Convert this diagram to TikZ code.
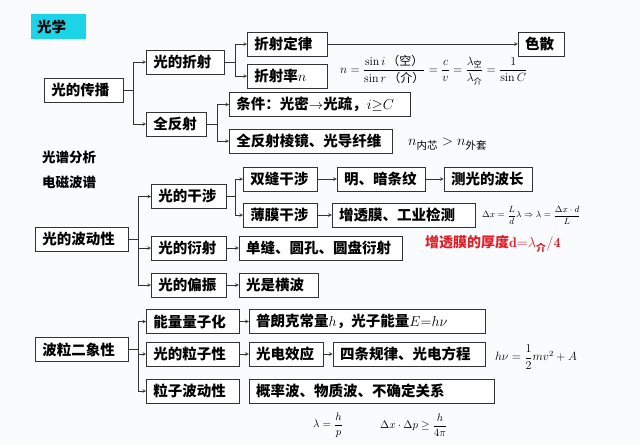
\documentclass[tikz,border=0pt]{standalone}
\usepackage{amsmath}
\usepackage{fontspec}
\newfontfamily\cjk{Noto Sans CJK SC}
\usetikzlibrary{positioning}
\definecolor{titlecyan}{RGB}{28,212,232}
\definecolor{redtext}{RGB}{225,30,40}
\definecolor{pagebg}{RGB}{250,251,253}

\begin{document}
\begin{tikzpicture}[x=1pt, y=-1pt,
				box/.style={rectangle, draw=black!80, line width=0.8pt, fill=white, minimum height=24pt, inner xsep=7pt, inner ysep=0pt, align=left, anchor=west, font=\cjk\bfseries\fontsize{14.5}{16}\selectfont},
				title/.style={rectangle, fill=titlecyan, minimum height=25pt, inner xsep=6pt, text width=43pt, align=left, anchor=west, font=\cjk\bfseries\fontsize{14.5}{16}\selectfont},
				note/.style={inner sep=0pt, anchor=west, font=\cjk\bfseries\fontsize{13.5}{16}\selectfont},
				formula/.style={inner sep=0pt, anchor=west, font=\fontsize{12}{14}\selectfont}
			]
			\fill[pagebg] (0,0) rectangle (640,445);
			% propagation
			\node[title] (optics) at (31,26.5) {光学};
			\node[box, text width=65pt] (prop) at (44,90) {光的传播};
			\node[box, text width=64pt] (refr) at (146,62) {光的折射};
			\node[box, text width=46pt] (tir) at (146,124) {全反射};
			\node[box, text width=66pt] (law) at (247,44) {折射定律};
			\node[box, text width=66pt] (index) at (247,76) {折射率$n$};
			\node[box, text width=167pt] (cond) at (229,104.5) {条件：光密$\to$光疏，$i{\geq}C$};
			\node[box, text width=149pt] (fiber) at (229,141) {全反射棱镜、光导纤维};
			\node[box, text width=32pt] (disp) [right=190pt of law] {色散};
			\node[formula] (snell) at (340,70) {$n=\dfrac{\sin i\,\text{\cjk （空）}}{\sin r\,\text{\cjk （介）}}=\dfrac{c}{v}=\dfrac{\lambda_{\text{\cjk 空}}}{\lambda_{\text{\cjk 介}}}=\dfrac{1}{\sin C}$};
			\node[formula, font=\fontsize{15}{17}\selectfont] (core) at (408,144) {$n_{\text{\cjk 内芯}}>n_{\text{\cjk 外套}}$};
			\node[note] (spec) at (42,157) {光谱分析};
			\node[note] (emw) at (42,182) {电磁波谱};
			% wave nature
			\node[box, text width=79pt] (wave) at (35,239) {光的波动性};
			\node[box, text width=61pt] (interf) at (151,196.5) {光的干涉};
			\node[box, text width=60pt] (double) at (243,179) {双缝干涉};
			\node[box, text width=60pt] (film) at (243,215) {薄膜干涉};
			\node[box, text width=74pt] (fringe) [right=19pt of double] {明、暗条纹};
			\node[box, text width=74pt] (wavelen) [right=18pt of fringe] {测光的波长};
			\node[box, text width=129pt] (coat) [right=14pt of film] {增透膜、工业检测};
			\node[box, text width=61pt] (diffr) at (151,248) {光的衍射};
			\node[box, text width=149pt] (slit) [right=12pt of diffr] {单缝、圆孔、圆盘衍射};
			\node[box, text width=61pt] (polar) at (151,285) {光的偏振};
			\node[box, text width=65pt] (trans) [right=12pt of polar] {光是横波};
			\node[formula, font=\fontsize{9.5}{11}\selectfont] (fringeq) at (482,215) {$\Delta x=\dfrac{L}{d}\lambda\Rightarrow\lambda=\dfrac{\Delta x\cdot d}{L}$};
			\node[note, text=redtext, font=\cjk\bfseries\fontsize{14}{16}\selectfont] (thick) at (425,244) {增透膜的厚度$\mathbf{d{=}}\lambda_{\text{\cjk 介}}/\mathbf{4}$};
			% wave-particle duality
			\node[box, text width=79pt] (dual) at (35,349.5) {波粒二象性};
			\node[box, text width=79pt] (quant) at (146,321.5) {能量量子化};
			\node[box, text width=79pt] (part) at (146,354) {光的粒子性};
			\node[box, text width=79pt] (pwave) at (146,391) {粒子波动性};
			\node[box, text width=222pt] (planck) [right=9pt of quant] {普朗克常量$h$，光子能量$E{=}h\nu$};
			\node[box, text width=60pt] (photo) [right=9pt of part] {光电效应};
			\node[box, text width=138pt] (four) [right=9pt of photo] {四条规律、光电方程};
			\node[box, text width=231pt] (prob) [right=9pt of pwave] {概率波、物质波、不确定关系};
			\node[formula] (einstein) at (495,357) {$h\nu=\dfrac{1}{2}mv^2+A$};
			\node[formula, font=\fontsize{11}{13}\selectfont] (debroglie) at (313,425) {$\lambda=\dfrac{h}{p}$};
			\node[formula, font=\fontsize{10.5}{12}\selectfont] (uncert) at (380,425) {$\Delta x\cdot\Delta p\geq\dfrac{h}{4\pi}$};
			\begin{scope}[line width=0.6pt, draw=black!80, -stealth]
			\draw (prop.east) -- ++(9,0) |- (refr.west);
			\draw (prop.east) -- ++(9,0) |- (tir.west);
			\draw (refr.east) -- ++(10,0) |- (law.west);
			\draw (refr.east) -- ++(10,0) |- (index.west);
			\draw (tir.east) -- ++(10,0) |- (cond.west);
			\draw (tir.east) -- ++(10,0) |- (fiber.west);
			\draw (law.east) -- (disp.west);
			\draw (wave.east) -- ++(9,0) |- (interf.west);
			\draw (wave.east) -- ++(9,0) |- (diffr.west);
			\draw (wave.east) -- ++(9,0) |- (polar.west);
			\draw (interf.east) -- ++(8,0) |- (double.west);
			\draw (interf.east) -- ++(8,0) |- (film.west);
			\draw (double.east) -- (fringe.west);
			\draw (fringe.east) -- (wavelen.west);
			\draw (film.east) -- (coat.west);
			\draw (diffr.east) -- (slit.west);
			\draw (polar.east) -- (trans.west);
			\draw (dual.east) -- ++(9,0) |- (quant.west);
			\draw (dual.east) -- ++(9,0) |- (part.west);
			\draw (dual.east) -- ++(9,0) |- (pwave.west);
			\draw (quant.east) -- (planck.west);
			\draw (part.east) -- (photo.west);
			\draw (photo.east) -- (four.west);
			\end{scope}
			\end{tikzpicture}
\end{document}
